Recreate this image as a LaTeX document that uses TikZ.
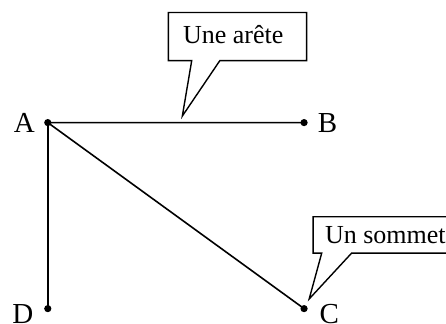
\documentclass[tikz,border=0pt]{standalone}
\usepackage{fontspec}
\setmainfont{Liberation Serif}
\usetikzlibrary{positioning}

\begin{document}
\begin{tikzpicture}[
  edge/.style={line width=1.6pt},
  bulle/.style={line width=1.4pt, line join=miter},
  sommet/.style={font=\fontsize{29}{33}\selectfont, inner sep=0pt},
  texte/.style={font=\fontsize{26}{30}\selectfont, inner sep=0pt, anchor=base west}]
  \useasboundingbox (0,0) rectangle (15.68,11.39);

  \coordinate (A) at (1.68,7.08);
  \coordinate (B) at (10.69,7.08);
  \coordinate (C) at (10.69,0.54);
  \coordinate (D) at (1.68,0.54);

  \draw[edge] (B) -- (A) -- (C);
  \draw[edge] (A) -- (D);
  \foreach \p in {A,B,C,D}
    \fill (\p) circle (3.6pt);

  \node[sommet, left=0.45cm of A] (lA) {A};
  \node[sommet, right=0.48cm of B] (lB) {B};
  \node[sommet, right=0.54cm of C, yshift=-5pt] (lC) {C};
  \node[sommet, left=0.5cm of D, yshift=-5pt] (lD) {D};

  % bulle "Une arête"
  \node[texte] (arete) at (6.43,9.87) {Une arête};
  \coordinate (tip1) at (6.41,7.31);
  \draw[bulle] (6.74,9.26) -- (5.92,9.26) -- (5.92,10.95) -- (10.78,10.95)
    -- (10.78,9.26) -- (7.73,9.26) -- (tip1) -- cycle;

  % bulle "Un sommet"
  \node[texte] (som) at (11.42,2.84) {Un sommet};
  \coordinate (tip2) at (10.87,0.88);
  \draw[bulle] (11.31,2.49) -- (11.01,2.49) -- (11.01,3.77) -- (15.75,3.77)
    -- (15.75,2.49) -- (12.36,2.49) -- (tip2) -- cycle;
\end{tikzpicture}
\end{document}
